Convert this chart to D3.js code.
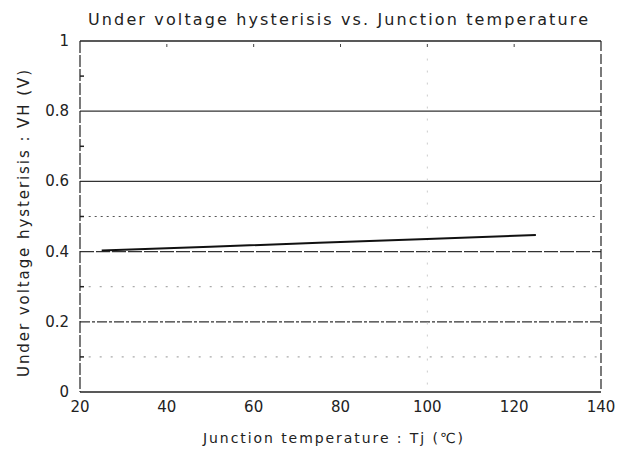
<!DOCTYPE html>
<html>
<head>
<meta charset="utf-8">
<script src="https://cdn.jsdelivr.net/npm/d3@7"></script>
<style>
  body { margin: 0; background: #fff; }
  text { font-family: "DejaVu Sans", sans-serif; fill: #222; }
</style>
</head>
<body>
<div id="chart"></div>
<script>
// Data
const tempC = [25, 50, 75, 100, 125];
const hysteresisV = [0.403, 0.414, 0.425, 0.436, 0.447];

const xTicks = [20, 40, 60, 80, 100, 120, 140];
const yTicks = [0, 0.2, 0.4, 0.6, 0.8, 1];
const yMinor = [0.1, 0.3, 0.5, 0.7, 0.9];

const width = 623, height = 454;
const margin = {left: 80, right: 22, top: 41, bottom: 62};

const svg = d3.select("#chart")
    .append("svg")
    .attr("width", width)
    .attr("height", height);

const x = d3.scaleLinear()
    .domain([20, 140])
    .range([margin.left, width - margin.right]);

const y = d3.scaleLinear()
    .domain([0, 1])
    .range([height - margin.bottom, margin.top]);

// gridlines, styles loosely follow the photocopy
const gridStyle = {
    0.2: "10,2,3,2",
    0.4: "14,2",
    0.6: null,
    0.8: null
};
svg.selectAll(".grid")
    .data([0.2, 0.4, 0.6, 0.8])
    .enter()
    .append("line")
    .attr("x1", x(20))
    .attr("x2", x(140))
    .attr("y1", d => y(d))
    .attr("y2", d => y(d))
    .attr("stroke", "#333")
    .attr("stroke-width", 1.3)
    .attr("stroke-dasharray", d => gridStyle[d]);

// faint dotted minor gridlines
svg.selectAll(".minor")
    .data([0.1, 0.3, 0.5])
    .enter()
    .append("line")
    .attr("x1", x(22))
    .attr("x2", x(139))
    .attr("y1", d => y(d))
    .attr("y2", d => y(d))
    .attr("stroke", d => d === 0.5 ? "#555" : "#aaa")
    .attr("stroke-width", 1.2)
    .attr("stroke-dasharray", d => d === 0.5 ? "2,4" : "2,9");

// faint vertical dotted line at 100
svg.append("line")
    .attr("x1", x(100)).attr("x2", x(100))
    .attr("y1", y(0.95)).attr("y2", y(0.02))
    .attr("stroke", "#ccc")
    .attr("stroke-dasharray", "2,10");

// frame
svg.append("line")
    .attr("x1", x(20)).attr("x2", x(140))
    .attr("y1", y(1)).attr("y2", y(1))
    .attr("stroke", "#222").attr("stroke-width", 1.5);
svg.append("line")
    .attr("x1", x(20)).attr("x2", x(140))
    .attr("y1", y(0)).attr("y2", y(0))
    .attr("stroke", "#222").attr("stroke-width", 1.5);
svg.append("line")
    .attr("x1", x(20)).attr("x2", x(20))
    .attr("y1", y(1)).attr("y2", y(0))
    .attr("stroke", "#222").attr("stroke-width", 1.2)
    .attr("stroke-dasharray", "12,2");
svg.append("line")
    .attr("x1", x(140)).attr("x2", x(140))
    .attr("y1", y(1)).attr("y2", y(0))
    .attr("stroke", "#222").attr("stroke-width", 1.2)
    .attr("stroke-dasharray", "10,3");

// minor ticks on left axis
svg.selectAll(".ytick-minor")
    .data(yMinor)
    .enter()
    .append("line")
    .attr("x1", x(20))
    .attr("x2", x(20) + 4)
    .attr("y1", d => y(d))
    .attr("y2", d => y(d))
    .attr("stroke", "#222")
    .attr("stroke-width", 1.5);

// small tick marks under the top border
svg.selectAll(".xtick-top")
    .data(xTicks.slice(1, -1))
    .enter()
    .append("line")
    .attr("x1", d => x(d))
    .attr("x2", d => x(d))
    .attr("y1", y(1) + 3)
    .attr("y2", y(1) + 6)
    .attr("stroke", "#444");

// tick labels
svg.selectAll(".xlabel")
    .data(xTicks)
    .enter()
    .append("text")
    .attr("x", d => x(d))
    .attr("y", y(0) + 20)
    .attr("text-anchor", "middle")
    .attr("font-size", 15)
    .text(d => d);

svg.selectAll(".ylabel")
    .data(yTicks)
    .enter()
    .append("text")
    .attr("x", x(20) - 11)
    .attr("y", d => y(d) + 5)
    .attr("text-anchor", "end")
    .attr("font-size", 15)
    .text(d => d);

// data curve
const line = d3.line()
    .x((d, i) => x(tempC[i]))
    .y(d => y(d));

svg.append("path")
    .datum(hysteresisV)
    .attr("d", line)
    .attr("fill", "none")
    .attr("stroke", "#111")
    .attr("stroke-width", 2);

// titles (spread out like the scanned lettering)
svg.append("text")
    .attr("x", 88)
    .attr("y", 25)
    .attr("font-size", 16)
    .attr("textLength", 500)
    .attr("lengthAdjust", "spacing")
    .text("Under voltage hysterisis vs. Junction temperature");

svg.append("text")
    .attr("x", 203)
    .attr("y", 443)
    .attr("font-size", 14)
    .attr("textLength", 260)
    .attr("lengthAdjust", "spacing")
    .text("Junction temperature : Tj (℃)");

svg.append("text")
    .attr("transform", "translate(29,377) rotate(-90)")
    .attr("font-size", 15)
    .attr("textLength", 307)
    .attr("lengthAdjust", "spacing")
    .text("Under voltage hysterisis : VH (V)");
</script>
</body>
</html>
